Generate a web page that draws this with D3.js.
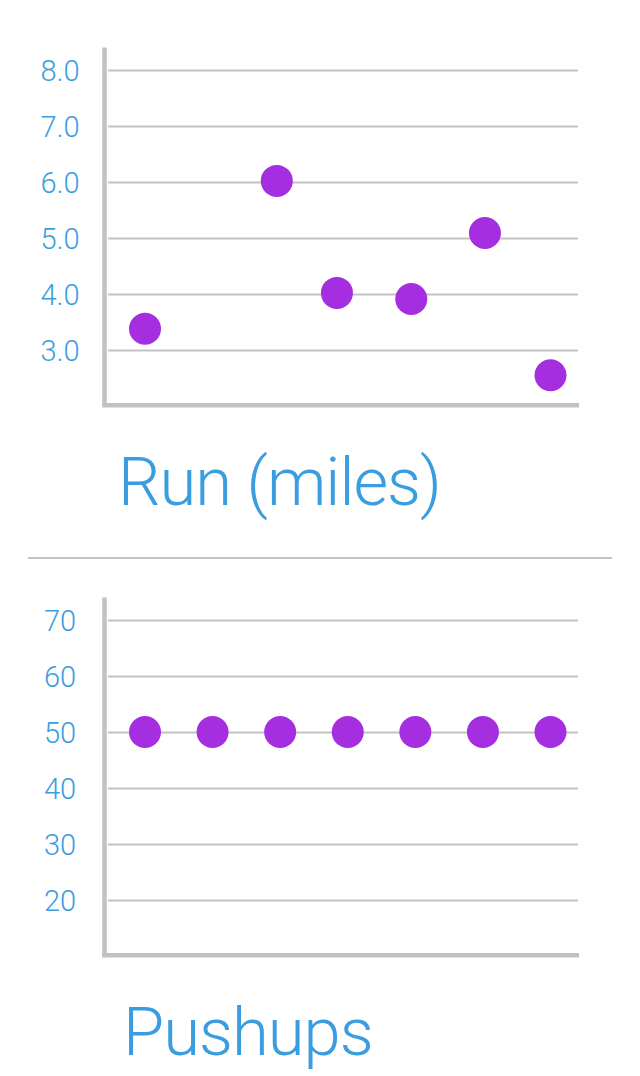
<!DOCTYPE html>
<html>
<head>
<meta charset="utf-8">
<script src="https://cdn.jsdelivr.net/npm/d3@7"></script>
<style>
  html, body { margin: 0; padding: 0; background: #fff; }
  svg { display: block; }
</style>
</head>
<body>
<svg id="chart" width="640" height="1076"></svg>
<script>
// ---- data ----
const runDays = [0, 1.95, 2.84, 3.94, 5.03, 6];
const runMiles = [3.38, 6.02, 4.02, 3.91, 5.09, 2.55];
const runTicks = [3, 4, 5, 6, 7, 8];
const runTitle = "Run (miles)";

const pushDays = [0, 1, 2, 3, 4, 5, 6];
const pushCounts = [50, 50, 50, 50, 50, 50, 50];
const pushTicks = [20, 30, 40, 50, 60, 70];
const pushTitle = "Pushups";

// ---- style ----
const blue = "#3a9de0";
const purple = "#a42ee0";
const grey = "#c2c2c2";
const font = "Roboto, 'Helvetica Neue', 'Liberation Sans', sans-serif";

const svg = d3.select("#chart");

function panel(opts) {
  const g = svg.append("g");
  const x = d3.scaleLinear().domain([0, 6]).range([145, 550.5]);
  const y = d3.scaleLinear().domain(opts.yDomain).range([opts.bottom, opts.top]);

  // grid + tick labels via axis
  const ax = g.append("g").attr("transform", "translate(108,0)")
    .call(d3.axisLeft(y).tickValues(opts.ticks).tickSize(-470).tickFormat(opts.fmt));
  ax.select(".domain").remove();
  ax.selectAll(".tick line").attr("stroke", grey).attr("stroke-width", 2);
  ax.selectAll(".tick text")
    .attr("x", -48).attr("dy", "0.36em")
    .attr("text-anchor", "middle")
    .attr("fill", blue)
    .style("font-family", font).style("font-weight", 300).style("font-size", "29px");

  // axis lines
  g.append("line").attr("x1", 104.5).attr("x2", 104.5)
    .attr("y1", opts.top).attr("y2", opts.bottom + 1)
    .attr("stroke", grey).attr("stroke-width", 4.6);
  g.append("line").attr("x1", 102.2).attr("x2", 579)
    .attr("y1", opts.bottom - 0.8).attr("y2", opts.bottom - 0.8)
    .attr("stroke", grey).attr("stroke-width", 4.6);

  // points
  g.selectAll("circle").data(opts.xs.map((d, i) => [d, opts.ys[i]])).join("circle")
    .attr("cx", d => x(d[0])).attr("cy", d => y(d[1])).attr("r", 16)
    .attr("fill", purple);

  // title
  g.append("text").attr("x", opts.titleX).attr("y", opts.titleY)
    .attr("fill", blue)
    .style("font-family", font).style("font-weight", 300).style("font-size", "67px")
    .style("letter-spacing", "-1px")
    .text(opts.title);
}

panel({
  xs: runDays, ys: runMiles, ticks: runTicks, fmt: d3.format(".1f"),
  yDomain: [2, 8.4], bottom: 406, top: 47.6,
  title: runTitle, titleX: 118, titleY: 505
});

// separator
svg.append("line").attr("x1", 28).attr("x2", 612).attr("y1", 558).attr("y2", 558)
  .attr("stroke", grey).attr("stroke-width", 2);

panel({
  xs: pushDays, ys: pushCounts, ticks: pushTicks, fmt: d3.format("d"),
  yDomain: [10, 74], bottom: 956, top: 597.6,
  title: pushTitle, titleX: 123, titleY: 1055
});
</script>
</body>
</html>
